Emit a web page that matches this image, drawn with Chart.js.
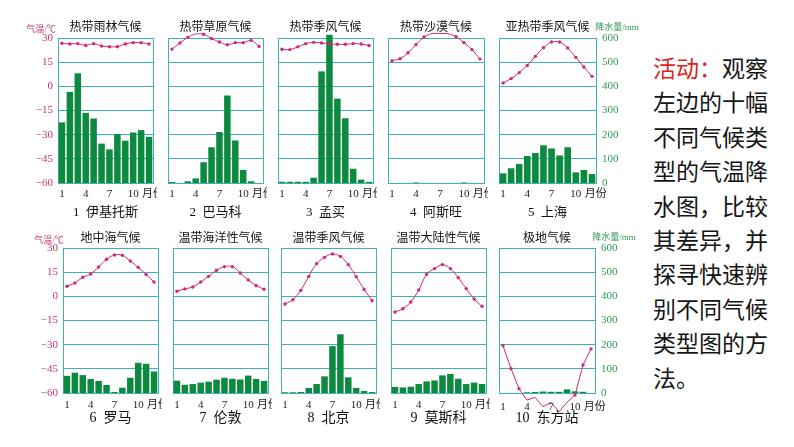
<!DOCTYPE html>
<html>
<head>
<meta charset="utf-8">
<script src="https://cdn.jsdelivr.net/npm/chart.js@4.4.1/dist/chart.umd.min.js"></script>
<style>
  body { margin: 0; background: #fff; width: 794px; height: 447px; overflow: hidden; position: relative; }
  .wrap { position: absolute; }
  .lbl { position: absolute; white-space: pre; transform: translate(-50%, -50%); color: #111;
         font-family: "Liberation Serif", "Noto Sans CJK SC", serif; line-height: 1; }
  .title { font-size: 12px; }
  .name { font-size: 13px; }
  .unitT { font-size: 9px; color: #c8336e; }
  .unitP { font-size: 9px; color: #2f9c55; }
  #note { position: absolute; left: 653px; top: 50px; font-family: "Noto Sans CJK SC", sans-serif;
          font-size: 23px; line-height: 34.4px; color: #151515; }
  #note .red { color: #e3201c; }
</style>
</head>
<body>
<div id="note"><span class="red">活动：</span>观察<br>左边的十幅<br>不同气候类<br>型的气温降<br>水图，比较<br>其差异，并<br>探寻快速辨<br>别不同气候<br>类型图的方<br>法。</div>

<script>
// 月份与刻度
const months = ['1', '2', '3', '4', '5', '6', '7', '8', '9', '10', '11', '12'];
const monthTicks = ['1', '', '', '4', '', '', '7', '', '', '10', '', '\u2002\u2009月份'];
const tempTicks = [30, 15, 0, -15, -30, -45, -60];
const rainTicks = [600, 500, 400, 300, 200, 100, 0];

// 气候类型与站点
const climateTitles = ['热带雨林气候', '热带草原气候', '热带季风气候', '热带沙漠气候', '亚热带季风气候',
                       '地中海气候', '温带海洋性气候', '温带季风气候', '温带大陆性气候', '极地气候'];
const stationNames = ['1  伊基托斯', '2  巴马科', '3  孟买', '4  阿斯旺', '5  上海',
                      '6  罗马', '7  伦敦', '8  北京', '9  莫斯科', '10  东方站'];

// 气温 (℃)
const tempIquitos  = [26.7, 26.3, 26.5, 25.4, 26.5, 25.0, 24.6, 24.6, 26.3, 27.1, 27.1, 26.3];
const tempBamako   = [23.1, 26.9, 30.4, 32.5, 32.3, 29.6, 27.5, 25.8, 27.1, 27.1, 28.5, 24.8];
const tempMumbai   = [23.0, 22.8, 24.5, 26.5, 27.3, 26.9, 26.3, 26.1, 26.1, 26.5, 26.3, 25.3];
const tempAswan    = [15.9, 17.1, 20.8, 25.9, 30.6, 32.7, 32.7, 32.7, 30.8, 27.1, 22.8, 16.9];
const tempShanghai = [2.1, 4.8, 8.5, 13.0, 18.6, 24.0, 27.5, 27.5, 23.8, 18.0, 12.0, 6.2];
const tempRome     = [6.3, 8.3, 11.8, 13.9, 18.2, 23.0, 25.7, 25.5, 21.9, 18.0, 13.5, 8.9];
const tempLondon   = [3.2, 4.6, 5.8, 8.9, 12.4, 16.2, 18.4, 18.4, 14.5, 10.2, 6.7, 4.4];
const tempBeijing  = [-4.8, -2.1, 3.7, 12.4, 20.3, 24.2, 26.3, 24.8, 19.7, 12.2, 4.3, -2.7];
const tempMoscow   = [-9.7, -7.7, -3.5, 3.9, 13.7, 17.2, 19.7, 17.2, 11.6, 4.8, -1.7, -6.2];
const tempVostok   = [-30.6, -44.9, -57.3, -64.4, -62.7, -68.5, -65.8, -71.6, -65.8, -61.2, -42.6, -32.6];

// 降水量 (mm)
const rainIquitos  = [251, 377, 454, 290, 267, 163, 139, 202, 175, 209, 219, 191];
const rainBamako   = [4, 0, 7, 19, 86, 148, 211, 362, 176, 54, 7, 0];
const rainMumbai   = [5, 5, 5, 5, 22, 462, 613, 349, 268, 59, 14, 5];
const rainAswan    = [0, 0, 0, 2, 0, 0, 0, 0, 0, 2, 0, 0];
const rainShanghai = [40, 61, 79, 112, 124, 156, 143, 114, 148, 44, 54, 37];
const rainRome     = [71, 84, 74, 58, 50, 33, 4, 22, 63, 125, 121, 89];
const rainLondon   = [51, 34, 37, 43, 47, 55, 63, 59, 56, 72, 58, 50];
const rainBeijing  = [3, 3, 4, 21, 37, 69, 194, 243, 65, 21, 8, 4];
const rainMoscow   = [25, 23, 26, 37, 48, 52, 73, 79, 59, 37, 43, 37];
const rainVostok   = [0, 0, 0, 3, 4, 6, 5, 5, 15, 7, 5, 0];

const temps = [tempIquitos, tempBamako, tempMumbai, tempAswan, tempShanghai,
               tempRome, tempLondon, tempBeijing, tempMoscow, tempVostok];
const rains = [rainIquitos, rainBamako, rainMumbai, rainAswan, rainShanghai,
               rainRome, rainLondon, rainBeijing, rainMoscow, rainVostok];

// 每幅小图的方框位置 (left, top, width, height)
const boxes = [
  [58, 38, 95, 145], [168, 38, 95, 145], [278, 38, 95, 145], [388, 38, 96, 145], [499, 38, 97, 145],
  [63, 248, 95, 145], [173, 248, 95, 145], [281, 248, 95, 145], [391, 248, 95, 145], [499, 248, 96, 145]
];

const gridColor = '#3fb0c2';
const barColor = '#0b8a40';
const lineColor = '#d0287a';
const numFont = '"Liberation Serif", "Noto Sans CJK SC", serif';

function addLabel(text, cls, x, y) {
  const d = document.createElement('div');
  d.className = 'lbl ' + cls;
  d.textContent = text;
  d.style.left = x + 'px';
  d.style.top = y + 'px';
  document.body.appendChild(d);
}

function makePanel(i) {
  const [bx, by, bw, bh] = boxes[i];
  const leftAxis = (i === 0 || i === 5);
  const rightAxis = (i === 4 || i === 9);
  const bottomRow = i >= 5;
  const lw = leftAxis ? 44 : 4;
  const rw = rightAxis ? 40 : 4;
  const padT = 16;
  const xh = 30;

  const wrap = document.createElement('div');
  wrap.className = 'wrap';
  wrap.style.left = (bx - lw) + 'px';
  wrap.style.top = (by - padT) + 'px';
  wrap.style.width = (lw + bw + rw) + 'px';
  wrap.style.height = (padT + bh + xh) + 'px';
  const canvas = document.createElement('canvas');
  wrap.appendChild(canvas);
  document.body.appendChild(wrap);

  new Chart(canvas, {
    type: 'bar',
    data: {
      labels: months,
      datasets: [{
        type: 'line',
        data: temps[i],
        yAxisID: 'yT',
        borderColor: lineColor,
        borderWidth: 1,
        pointRadius: 1.7,
        pointBackgroundColor: lineColor,
        pointBorderWidth: 0,
        tension: i === 9 ? 0 : 0.35,
        clip: false,
        order: 0
      }, {
        data: rains[i],
        yAxisID: 'yP',
        backgroundColor: barColor,
        barPercentage: 0.82,
        categoryPercentage: 1,
        clip: false,
        order: 1
      }]
    },
    options: {
      responsive: true,
      maintainAspectRatio: false,
      animation: false,
      layout: { padding: { top: padT, left: 0, right: 0, bottom: 0 } },
      plugins: { legend: { display: false }, tooltip: { enabled: false } },
      scales: {
        x: {
          grid: { display: false, drawTicks: false },
          border: { display: true, color: gridColor, width: 1 },
          ticks: {
            autoSkip: false, maxRotation: 0, color: '#222',
            padding: i === 9 ? 8 : (bottomRow ? 5.5 : 4.5),
            font: { family: numFont, size: 11 },
            callback: (v, k) => monthTicks[k]
          },
          afterFit: s => { s.height = xh; s.paddingLeft = 0; s.paddingRight = 0; }
        },
        yT: {
          position: 'left',
          min: tempTicks[tempTicks.length - 1], max: tempTicks[0],
          afterBuildTicks: s => { s.ticks = tempTicks.map(v => ({ value: v })); },
          grid: { color: gridColor, lineWidth: 1, drawTicks: false },
          border: { display: true, color: gridColor, width: 1 },
          ticks: {
            display: leftAxis, padding: 5, color: '#c8336e',
            font: { family: numFont, size: 11 },
            callback: v => String(v).replace('-', '\u2212')
          },
          afterFit: s => { s.width = lw; s.paddingTop = 0; s.paddingBottom = 0; }
        },
        yP: {
          position: 'right',
          min: rainTicks[rainTicks.length - 1], max: rainTicks[0],
          afterBuildTicks: s => { s.ticks = rainTicks.map(v => ({ value: v })); },
          grid: { display: false, drawTicks: false },
          border: { display: true, color: gridColor, width: 1 },
          ticks: {
            display: rightAxis, padding: 6, color: '#2f9c55',
            font: { family: numFont, size: 11 }
          },
          afterFit: s => { s.width = rw; s.paddingTop = 0; s.paddingBottom = 0; }
        }
      }
    }
  });

  const cx = bx + bw / 2;
  addLabel(climateTitles[i], 'title', cx, bottomRow ? 238 : 27);
  addLabel(stationNames[i], bottomRow ? 'name big' : 'name', cx, bottomRow ? 418 : 211);
}

for (let i = 0; i < 10; i++) makePanel(i);

addLabel('气温/℃', 'unitT', 41, 29);
addLabel('气温/℃', 'unitT', 49, 240);
addLabel('降水量/mm', 'unitP', 617, 27);
addLabel('降水量/mm', 'unitP', 614, 237);
document.querySelectorAll('.big').forEach(d => { d.style.fontSize = '14px'; });
</script>
</body>
</html>
